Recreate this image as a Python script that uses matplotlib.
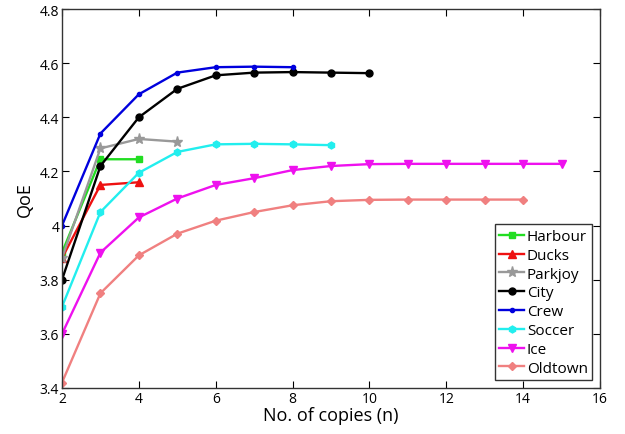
import matplotlib
matplotlib.use("Agg")
import matplotlib.pyplot as plt

names = ["Harbour", "Ducks", "Parkjoy", "City", "Crew", "Soccer", "Ice", "Oldtown"]
harbour_x = [2, 3, 4]
harbour_y = [3.90, 4.245, 4.245]
ducks_x = [2, 3, 4]
ducks_y = [3.88, 4.15, 4.16]
parkjoy_x = [2, 3, 4, 5]
parkjoy_y = [3.88, 4.285, 4.32, 4.31]
city_x = [2, 3, 4, 5, 6, 7, 8, 9, 10]
city_y = [3.80, 4.22, 4.40, 4.505, 4.555, 4.565, 4.567, 4.565, 4.563]
crew_x = [2, 3, 4, 5, 6, 7, 8]
crew_y = [4.00, 4.34, 4.485, 4.565, 4.585, 4.587, 4.585]
soccer_x = [2, 3, 4, 5, 6, 7, 8, 9]
soccer_y = [3.70, 4.05, 4.195, 4.272, 4.30, 4.302, 4.300, 4.297]
ice_x = [2, 3, 4, 5, 6, 7, 8, 9, 10, 11, 12, 13, 14, 15]
ice_y = [3.60, 3.90, 4.03, 4.10, 4.15, 4.175, 4.205, 4.22, 4.227, 4.228, 4.228, 4.228, 4.228, 4.228]
oldtown_x = [2, 3, 4, 5, 6, 7, 8, 9, 10, 11, 12, 13, 14]
oldtown_y = [3.42, 3.75, 3.89, 3.97, 4.018, 4.05, 4.075, 4.09, 4.095, 4.096, 4.096, 4.096, 4.096]
x_ticks = [2, 4, 6, 8, 10, 12, 14, 16]
y_ticks = [3.4, 3.6, 3.8, 4.0, 4.2, 4.4, 4.6, 4.8]
y_tick_labels = ["3.4", "3.6", "3.8", "4", "4.2", "4.4", "4.6", "4.8"]

series = [
    (harbour_x, harbour_y, "#22dd22", "s", 4.5),
    (ducks_x, ducks_y, "#ee1111", "^", 5.5),
    (parkjoy_x, parkjoy_y, "#999999", "*", 8),
    (city_x, city_y, "black", "o", 5),
    (crew_x, crew_y, "#0000dd", ".", 6),
    (soccer_x, soccer_y, "#22eeee", "h", 5),
    (ice_x, ice_y, "#ee11ee", "v", 6),
    (oldtown_x, oldtown_y, "#f08080", "D", 4.5),
]

plt.rcParams['font.family'] = ['Open Sans', 'DejaVu Sans']
fig = plt.figure(figsize=(6.25, 4.35), dpi=100)
ax = fig.add_axes([62/625, 1 - 389/435, (600-62)/625, (389-10)/435])

for (x, y, c, m, ms), name in zip(series, names):
    ax.plot(x, y, color=c, marker=m, markersize=ms, linewidth=1.7, label=name)

ax.set_xlim(2, 16)
ax.set_ylim(3.4, 4.8)
ax.set_xticks(x_ticks)
ax.set_yticks(y_ticks)
ax.set_yticklabels(y_tick_labels)
ax.tick_params(direction='in', top=True, right=True, labelsize=10, length=5, pad=2)
for s in ax.spines.values():
    s.set_linewidth(1.0)
    s.set_color('#333333')
ax.set_xlabel("No. of copies (n)", fontsize=13, labelpad=0)
ax.set_ylabel("QoE", fontsize=13, labelpad=4)

leg = ax.legend(loc='lower right', fontsize=11, frameon=True, fancybox=False,
                edgecolor='black', handlelength=1.6, handletextpad=0.2,
                borderpad=0.3, labelspacing=0.25, borderaxespad=0.5)
leg.get_frame().set_linewidth(1.0)

fig.savefig("out.png", dpi=100)
